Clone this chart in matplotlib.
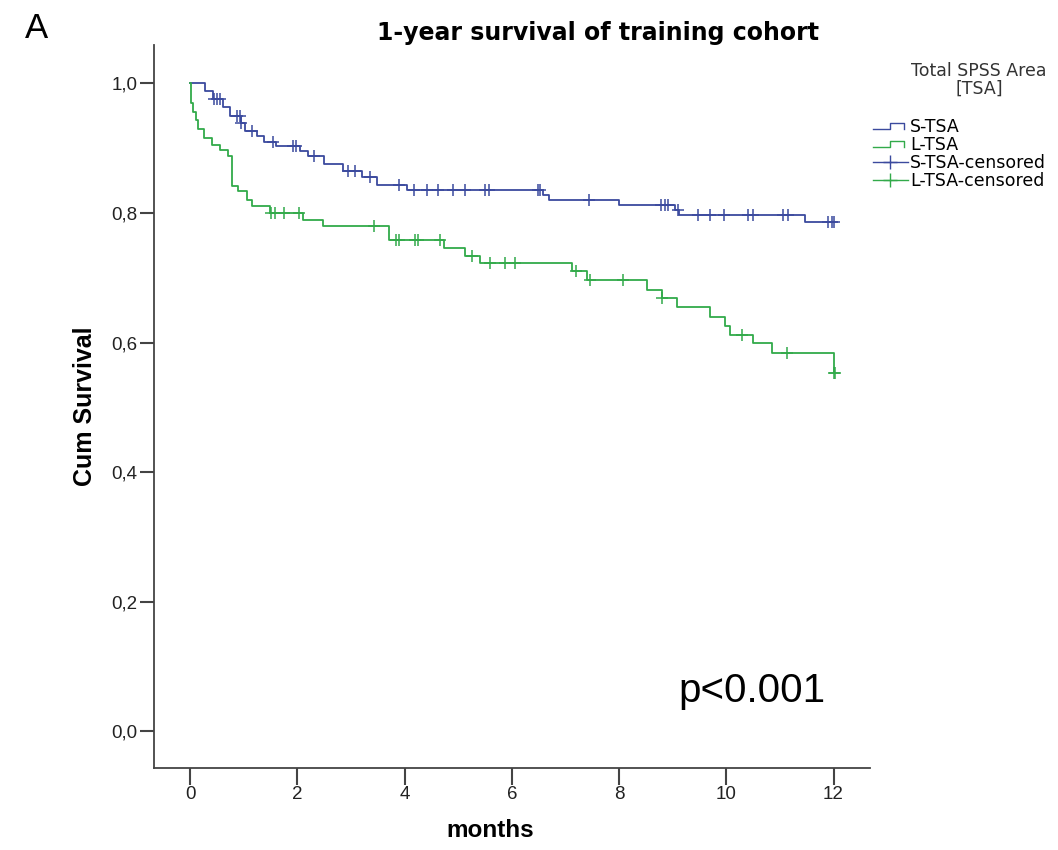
import numpy as np
import matplotlib
matplotlib.use("Agg")
import matplotlib.pyplot as plt
from matplotlib.lines import Line2D
from matplotlib.legend_handler import HandlerBase

# ---------------- data ----------------
s_event_t = [0.0, 0.28, 0.42, 0.62, 0.75, 0.95, 1.02, 1.25, 1.38, 1.6, 2.05, 2.2,
             2.5, 2.85, 3.2, 3.48, 4.05, 6.58, 6.7, 7.99, 9.05, 9.12, 11.47]
s_event_surv = [1.0, 0.988, 0.976, 0.963, 0.950, 0.938, 0.926, 0.918, 0.910, 0.903,
                0.895, 0.887, 0.875, 0.864, 0.855, 0.843, 0.836, 0.828, 0.820,
                0.8125, 0.805, 0.797, 0.786]
s_cens_t = [0.45, 0.5, 0.55, 0.88, 0.92, 0.95, 1.15, 1.55, 1.92, 1.97, 2.3, 2.95,
            3.08, 3.35, 3.9, 4.17, 4.42, 4.63, 4.91, 5.13, 5.5, 5.57, 6.48, 6.53,
            7.43, 8.78, 8.85, 8.92, 9.1, 9.48, 9.7, 9.95, 10.4, 10.5, 11.05, 11.15,
            11.9, 11.97, 12.0]

l_event_t = [0.0, 0.02, 0.06, 0.1, 0.15, 0.25, 0.4, 0.55, 0.7, 0.78, 0.9, 1.05,
             1.15, 1.49, 2.1, 2.48, 3.7, 4.73, 5.13, 5.41, 7.12, 7.4, 8.52, 8.8,
             9.08, 9.7, 9.98, 10.07, 10.5, 10.85, 12.0]
l_event_surv = [1.0, 0.97, 0.955, 0.943, 0.93, 0.916, 0.905, 0.897, 0.887, 0.841,
                0.833, 0.82, 0.81, 0.80, 0.789, 0.779, 0.758, 0.746, 0.733, 0.723,
                0.71, 0.696, 0.681, 0.668, 0.655, 0.64, 0.625, 0.612, 0.60, 0.584,
                0.553]
l_cens_t = [1.51, 1.59, 1.75, 2.03, 3.42, 3.83, 3.9, 4.2, 4.25, 4.66, 5.25, 5.6,
            5.88, 6.06, 7.2, 7.45, 8.08, 8.8, 10.3, 11.13, 12.0, 12.03]

group_labels = ["S-TSA", "L-TSA", "S-TSA-censored", "L-TSA-censored"]
legend_title = "Total SPSS Area\n[TSA]"
x_ticks = [0, 2, 4, 6, 8, 10, 12]
y_ticks = [0.0, 0.2, 0.4, 0.6, 0.8, 1.0]
y_ticklabels = ["0,0", "0,2", "0,4", "0,6", "0,8", "1,0"]

BLUE = "#3B4A9E"
GREEN = "#32AA4A"
GREY = "#444444"


def surv_at(times, ev_t, ev_s):
    ev_t = np.asarray(ev_t)
    ev_s = np.asarray(ev_s)
    idx = np.searchsorted(ev_t, np.asarray(times), side="right") - 1
    return ev_s[idx]


class StepHandler(HandlerBase):
    def create_artists(self, legend, orig_handle, xdescent, ydescent, width,
                       height, fontsize, trans):
        xs = np.array([0.0, 0.5, 0.5, 0.9, 0.9]) * width - xdescent
        ys = np.array([0.25, 0.25, 0.75, 0.75, 0.25]) * height - ydescent
        ln = Line2D(xs, ys, color=orig_handle.get_color(), lw=1.0,
                    transform=trans)
        return [ln]


fig = plt.figure(figsize=(10.58, 8.5), dpi=100)
W, H = 1058, 850
ax_l, ax_r, ax_t, ax_b = 154.3, 870, 45, 767.7
ax = fig.add_axes([ax_l / W, 1 - ax_b / H, (ax_r - ax_l) / W, (ax_b - ax_t) / H])

# curves
s_end = max(s_cens_t)
l_end = max(l_cens_t)
s_t = list(s_event_t) + [s_end]
s_s = list(s_event_surv) + [s_event_surv[-1]]
l_t = list(l_event_t) + [l_end]
l_s = list(l_event_surv) + [l_event_surv[-1]]

ls_line, = ax.step(s_t, s_s, where="post", color=BLUE, lw=1.3)
ll_line, = ax.step(l_t, l_s, where="post", color=GREEN, lw=1.3)

ax.plot(s_cens_t, surv_at(s_cens_t, s_event_t, s_event_surv), ls="none",
        marker="+", ms=9, mew=1.1, color=BLUE)
ax.plot(l_cens_t, surv_at(l_cens_t, l_event_t, l_event_surv), ls="none",
        marker="+", ms=9, mew=1.1, color=GREEN)

ax.set_xlim(-0.67, 12.68)
ax.set_ylim(-0.056, 1.059)
ax.set_xticks(x_ticks)
ax.set_xticklabels([str(v) for v in x_ticks], fontsize=13.5,
                   family="Liberation Sans", color="#222222")
ax.set_yticks(y_ticks)
ax.set_yticklabels(y_ticklabels, fontsize=13.5, family="Liberation Sans",
                   color="#222222")
ax.tick_params(axis="y", length=10, width=1.5, color=GREY, pad=2)
ax.tick_params(axis="x", length=12, width=1.5, color=GREY, pad=1)
for sp in ["top", "right"]:
    ax.spines[sp].set_visible(False)
for sp in ["left", "bottom"]:
    ax.spines[sp].set_color(GREY)
    ax.spines[sp].set_linewidth(1.3)

ax.set_ylabel("Cum Survival", fontsize=18, fontweight="bold",
              family="Liberation Sans")
ax.yaxis.set_label_coords(-0.08, 0.5)
ax.set_xlabel("months", fontsize=17.5, fontweight="bold",
              family="Liberation Sans")
ax.xaxis.set_label_coords(0.470, -0.071)
ax.xaxis.label.set_verticalalignment("top")

fig.text(598 / W, 1 - 33 / H, "1-year survival of training cohort",
         ha="center", va="center", fontsize=17, fontweight="bold",
         family="DejaVu Sans")
fig.text(25 / W, 1 - 38 / H, "A", ha="left", va="baseline", fontsize=25,
         family="Liberation Sans")
fig.text(678 / W, 1 - 702 / H, "p<0.001", ha="left", va="baseline",
         fontsize=29, family="Liberation Sans")

# legend
fig.text(979 / W, 1 - 80 / H, legend_title, ha="center", va="center",
         multialignment="center", linespacing=0.95, fontsize=12.5,
         family="DejaVu Sans", color="#333333")
h_sc = Line2D([], [], color=BLUE, marker="+", ms=10, mew=1.0, lw=1.0)
h_lc = Line2D([], [], color=GREEN, marker="+", ms=10, mew=1.0, lw=1.0)
leg = fig.legend([ls_line, ll_line, h_sc, h_lc], group_labels,
                 loc="upper left", bbox_to_anchor=(873 / W, 1 - 118 / H),
                 frameon=False, handlelength=2.0, handletextpad=0.15,
                 labelspacing=0.0, borderpad=0.0, borderaxespad=0,
                 handler_map={ls_line: StepHandler(), ll_line: StepHandler()},
                 prop={"family": "DejaVu Sans", "size": 12.5})

fig.savefig("out.png", dpi=100)
